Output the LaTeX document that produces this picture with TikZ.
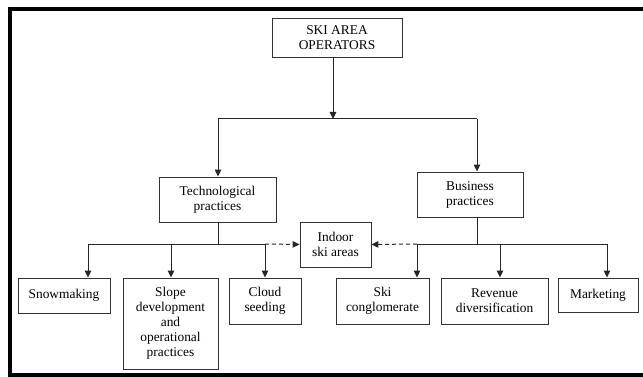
\documentclass[tikz,border=0pt]{standalone}
\usepackage{fontspec}
\setmainfont{Liberation Serif}
\usetikzlibrary{arrows.meta}
\begin{document}
\begin{tikzpicture}[x=1pt,y=-1pt,
  box/.style={draw=black!80,line width=0.9pt,inner sep=0pt,align=center,
    font=\rmfamily\fontsize{13.4}{15}\selectfont,text=black},
  link/.style={draw=black!85,line width=1pt},
  arr/.style={link,-{Triangle[length=7pt,width=6.5pt]}},
  darr/.style={arr,dashed,dash pattern=on 4pt off 3pt}]
\clip (0,0) rectangle (643,377);
\fill[white] (0,0) rectangle (643,377);
\draw[line width=4pt] (10,9) -- (660,9) -- (660,375) -- (10,375) -- cycle;
% nodes
\node[box,minimum width=130,minimum height=39] (top) at (337,37.5) {SKI AREA\\OPERATORS};
\node[box,minimum width=117,minimum height=45] (tech) at (217.5,199.5) {Technological\\practices};
\node[box,minimum width=106,minimum height=45] (bus) at (470,194.5) {Business\\practices};
\node[box,minimum width=71,minimum height=45] (indoor) at (335.5,244.5) {Indoor\\ski areas};
\node[box,minimum width=92,minimum height=35] (snow) at (64,295.5) {Snowmaking};
\node[box,minimum width=95,minimum height=91] (slope) at (170.5,323.5) {Slope\\development\\and\\operational\\practices};
\node[box,minimum width=72,minimum height=46] (cloud) at (265,301) {Cloud\\seeding};
\node[box,minimum width=93,minimum height=46] (skic) at (382.5,301) {Ski\\conglomerate};
\node[box,minimum width=107,minimum height=46] (rev) at (494.5,301) {Revenue\\diversification};
\node[box,minimum width=80,minimum height=34] (mkt) at (598,295) {Marketing};
% junction coordinates
\coordinate (m0) at (333,119);
\coordinate (l0) at (218,119);
\coordinate (r0) at (477,119);
\coordinate (tj) at (218,244);
\coordinate (bj) at (477,244);
\coordinate (a1) at (88,244);
\coordinate (a2) at (171,244);
\coordinate (a3) at (265,244);
\coordinate (b1) at (417,244);
\coordinate (b2) at (500,244);
\coordinate (b3) at (607,244);
% top level
\draw[arr] (top.south -| m0) -- (m0);
\draw[link] (l0) -- (r0);
\draw[arr] (l0) -- (l0 |- tech.north);
\draw[arr] (r0) -- (r0 |- bus.north);
% technological branch
\draw[link] (tech.south -| tj) -- (tj);
\draw[link] (a1) -- (a3);
\draw[arr] (a1) -- (a1 |- snow.north);
\draw[arr] (a2) -- (a2 |- slope.north);
\draw[arr] (a3) -- (a3 |- cloud.north);
\draw[darr] (a3) -- (indoor.west);
% business branch
\draw[link] (bus.south -| bj) -- (bj);
\draw[link] (b1) -- (b3);
\draw[arr] (b1) -- (b1 |- skic.north);
\draw[arr] (b2) -- (b2 |- rev.north);
\draw[arr] (b3) -- (b3 |- mkt.north);
\draw[darr] (b1) -- (indoor.east);
\end{tikzpicture}
\end{document}
